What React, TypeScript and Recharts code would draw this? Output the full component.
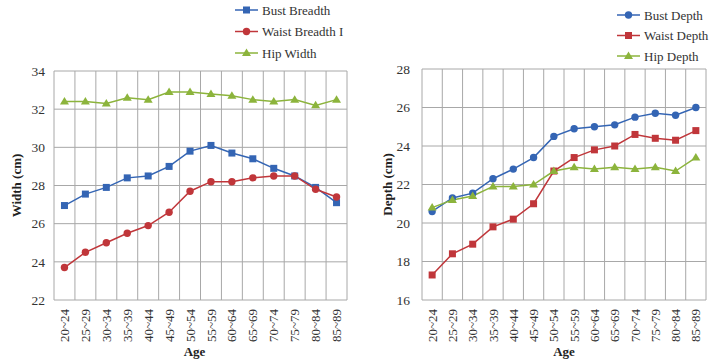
import { LineChart, Line, XAxis, YAxis, CartesianGrid, Legend } from 'recharts'

const ages = ['20~24', '25~29', '30~34', '35~39', '40~44', '45~49', '50~54', '55~59', '60~64', '65~69', '70~74', '75~79', '80~84', '85~89']

const bustBreadth = [26.95, 27.55, 27.9, 28.4, 28.5, 29.0, 29.8, 30.1, 29.7, 29.4, 28.9, 28.5, 27.9, 27.1]
const waistBreadth = [23.7, 24.5, 25.0, 25.5, 25.9, 26.6, 27.7, 28.2, 28.2, 28.4, 28.5, 28.5, 27.8, 27.4]
const hipWidth = [32.4, 32.4, 32.3, 32.6, 32.5, 32.9, 32.9, 32.8, 32.7, 32.5, 32.4, 32.5, 32.2, 32.5]

const bustDepth = [20.6, 21.3, 21.55, 22.3, 22.8, 23.4, 24.5, 24.9, 25.0, 25.1, 25.5, 25.7, 25.6, 26.0]
const waistDepth = [17.3, 18.4, 18.9, 19.8, 20.2, 21.0, 22.7, 23.4, 23.8, 24.0, 24.6, 24.4, 24.3, 24.8]
const hipDepth = [20.8, 21.2, 21.4, 21.9, 21.9, 22.0, 22.7, 22.9, 22.8, 22.9, 22.8, 22.9, 22.7, 23.4]

const widthTicks = [22, 24, 26, 28, 30, 32, 34]
const depthTicks = [16, 18, 20, 22, 24, 26, 28]

const BLUE = '#3465b4'
const RED = '#c0363a'
const GREEN = '#8cb43c'
const GRID = '#a8a8a8'
const FONT = "'Liberation Serif', 'DejaVu Serif', serif"

type Shape = 'square' | 'circle' | 'triangle'

function Marker({ x, y, shape, color }: { x: number; y: number; shape: Shape; color: string }) {
  if (shape === 'square') return <rect x={x - 3.5} y={y - 3.5} width={7} height={7} fill={color} />
  if (shape === 'circle') return <circle cx={x} cy={y} r={3.7} fill={color} />
  return <polygon points={`${x},${y - 4.5} ${x + 4.5},${y + 3} ${x - 4.5},${y + 3}`} fill={color} />
}

function makeDot(shape: Shape, color: string) {
  return (p: any) => <Marker key={p.index} x={p.cx} y={p.cy} shape={shape} color={color} />
}

function AgeTick({ x, y, payload }: any) {
  return (
    <g transform={`translate(${x},${y})`}>
      <text transform="rotate(-90)" x={-7} y={0} dy="0.35em" textAnchor="end" fontSize={13} fill="#333" fontFamily={FONT}>
        {payload.value}
      </text>
    </g>
  )
}

interface SeriesDef {
  key: string
  name: string
  values: number[]
  color: string
  shape: Shape
}

interface PanelProps {
  series: SeriesDef[]
  ticks: number[]
  yTitle: string
  yAxisWidth: number
  tickGap: number
  titleX: number
  ageShift: number
  top: number
  right: number
  legendLeft: number
  legendTop: number
  legendGap: number
}

function Panel(props: PanelProps) {
  const { series, ticks, yTitle, yAxisWidth, tickGap, titleX, ageShift, top, right, legendLeft, legendTop, legendGap } = props
  const data = ages.map((age, i) => {
    const row: Record<string, string | number> = { age }
    series.forEach((s) => (row[s.key] = s.values[i]))
    return row
  })

  const legendContent = () => (
    <svg width={130} height={legendTop + legendGap * series.length}>
      {series.map((s, i) => {
        const cy = legendTop + i * legendGap
        return (
          <g key={s.key}>
            <line x1={5} x2={28} y1={cy} y2={cy} stroke={s.color} strokeWidth={1.5} />
            <Marker x={16.5} y={cy} shape={s.shape} color={s.color} />
            <text x={32} y={cy} dy="0.35em" fontSize={13} fill="#333" fontFamily={FONT}>
              {s.name}
            </text>
          </g>
        )
      })}
    </svg>
  )

  return (
    <LineChart width={360} height={361} data={data} margin={{ top, right, bottom: 0, left: 0 }}>
      <CartesianGrid
        stroke={GRID}
        verticalCoordinatesGenerator={({ offset }: any) =>
          Array.from({ length: ages.length + 1 }, (_, i) => offset.left + (i * offset.width) / ages.length)
        }
      />
      <XAxis
        dataKey="age"
        scale="band"
        interval={0}
        height={61}
        tickSize={0}
        axisLine={false}
        tick={<AgeTick />}
        label={(p: any) => (
          <text
            x={p.viewBox.x + p.viewBox.width / 2 + ageShift}
            y={p.viewBox.y + 51}
            dy="0.35em"
            textAnchor="middle"
            fontSize={13}
            fontWeight="bold"
            fill="#222"
            fontFamily={FONT}
          >
            Age
          </text>
        )}
      />
      <YAxis
        domain={[ticks[0], ticks[ticks.length - 1]]}
        ticks={ticks}
        width={yAxisWidth}
        tickSize={0}
        tickMargin={tickGap}
        axisLine={false}
        tick={{ fontSize: 13.5, fill: '#333', fontFamily: FONT }}
        label={(p: any) => {
          const cx = p.viewBox.x + titleX
          const cy = p.viewBox.y + p.viewBox.height / 2
          return (
            <text
              x={cx}
              y={cy}
              transform={`rotate(-90, ${cx}, ${cy})`}
              textAnchor="middle"
              dy="0.35em"
              fontSize={13}
              fontWeight="bold"
              fill="#222"
              fontFamily={FONT}
            >
              {yTitle}
            </text>
          )
        }}
      />
      <Legend
        layout="vertical"
        align="center"
        verticalAlign="middle"
        content={legendContent}
        wrapperStyle={{ left: legendLeft, top: 0, width: 130 }}
      />
      {series.map((s) => (
        <Line
          key={s.key}
          dataKey={s.key}
          name={s.name}
          stroke={s.color}
          strokeWidth={1.5}
          dot={makeDot(s.shape, s.color)}
          activeDot={false}
          isAnimationActive={false}
        />
      ))}
    </LineChart>
  )
}

export default function App() {
  const widthSeries: SeriesDef[] = [
    { key: 'bust', name: 'Bust Breadth', values: bustBreadth, color: BLUE, shape: 'square' },
    { key: 'waist', name: 'Waist Breadth I', values: waistBreadth, color: RED, shape: 'circle' },
    { key: 'hip', name: 'Hip Width', values: hipWidth, color: GREEN, shape: 'triangle' },
  ]
  const depthSeries: SeriesDef[] = [
    { key: 'bust', name: 'Bust Depth', values: bustDepth, color: BLUE, shape: 'circle' },
    { key: 'waist', name: 'Waist Depth', values: waistDepth, color: RED, shape: 'square' },
    { key: 'hip', name: 'Hip Depth', values: hipDepth, color: GREEN, shape: 'triangle' },
  ]

  return (
    <div style={{ position: 'absolute', left: 0, top: 0, width: 720, height: 361, background: '#fff' }}>
      <div style={{ position: 'absolute', left: 0, top: 0 }}>
        <Panel
          series={widthSeries}
          ticks={widthTicks}
          yTitle="Width (cm)"
          yAxisWidth={54}
          tickGap={9}
          titleX={16}
          ageShift={-6}
          top={71}
          right={13}
          legendLeft={230}
          legendTop={10}
          legendGap={21.5}
        />
      </div>
      <div style={{ position: 'absolute', left: 360, top: 0 }}>
        <Panel
          series={depthSeries}
          ticks={depthTicks}
          yTitle="Depth (cm)"
          yAxisWidth={62}
          tickGap={12}
          titleX={27}
          ageShift={0}
          top={69}
          right={14}
          legendLeft={252}
          legendTop={15}
          legendGap={20.5}
        />
      </div>
    </div>
  )
}
